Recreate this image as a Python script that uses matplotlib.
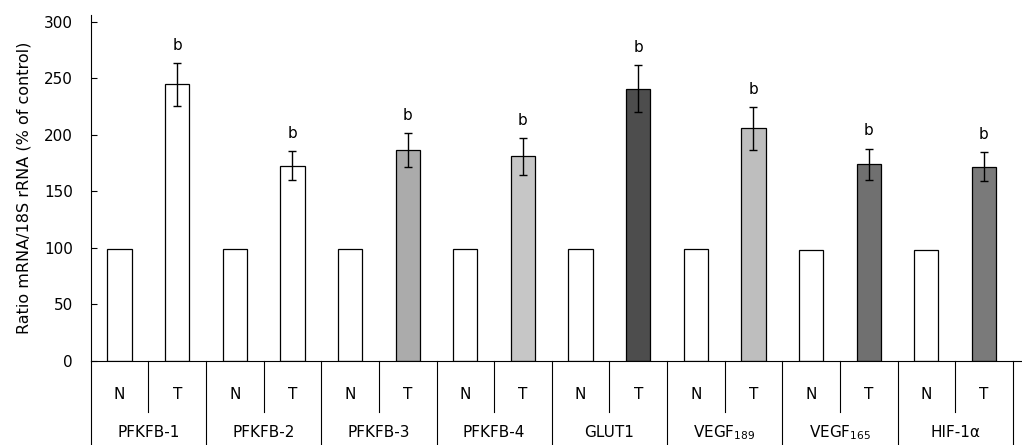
import matplotlib
matplotlib.use("Agg")
import matplotlib.pyplot as plt
import matplotlib.transforms as mtransforms
import numpy as np

# data
genes = ['PFKFB-1', 'PFKFB-2', 'PFKFB-3', 'PFKFB-4', 'GLUT1',
         r'VEGF$_\mathregular{189}$', r'VEGF$_\mathregular{165}$', 'HIF-1α']
normal = [99, 99, 99, 99, 99, 99, 98, 98]
tumor = [245, 173, 187, 181, 241, 206, 174, 172]
tumor_err = [19, 13, 15, 16, 21, 19, 14, 13]
tumor_colors = ['white', 'white', '#ababab', '#c6c6c6', '#4d4d4d',
                '#bebebe', '#707070', '#7a7a7a']

fig = plt.figure(figsize=(10.22, 4.45), dpi=100)
ax = fig.add_axes([0.0888, 0.1888, 0.9112, 0.777])

x = np.arange(len(genes))
w = 0.21
ax.bar(x + 0.25, normal, width=w, color='white', edgecolor='black', linewidth=0.9)
ax.bar(x + 0.75, tumor, width=w, color=tumor_colors, edgecolor='black', linewidth=0.9)
ax.errorbar(x + 0.75, tumor, yerr=tumor_err, fmt='none', ecolor='black',
            elinewidth=1, capsize=3, capthick=1)

for xi, t, e in zip(x, tumor, tumor_err):
    ax.text(xi + 0.75, t + e + 9, 'b', ha='center', va='bottom', fontsize=11)

ax.set_xlim(0, 8.08)
ax.set_ylim(0, 306)
ax.set_yticks(range(0, 301, 50))
ax.tick_params(axis='y', direction='in', length=4, labelsize=11, pad=13)
ax.set_xticks([])
ax.spines['top'].set_visible(False)
ax.spines['right'].set_visible(False)
ax.set_ylabel('Ratio mRNA/18S rRNA (% of control)', fontsize=11.5, labelpad=9)

# category table under the axis
trans = mtransforms.blended_transform_factory(ax.transData, ax.transAxes)
for i in range(len(genes) + 1):
    ax.plot([i, i], [0, -0.25], color='black', lw=0.8, transform=trans, clip_on=False)
for i, g in enumerate(genes):
    ax.plot([i + 0.5, i + 0.5], [0, -0.1475], color='black', lw=0.8,
            transform=trans, clip_on=False)
    ax.text(i + 0.25, -0.098, 'N', ha='center', va='center', fontsize=11, transform=trans)
    ax.text(i + 0.75, -0.098, 'T', ha='center', va='center', fontsize=11, transform=trans)
    ax.text(i + 0.5, -0.208, g, ha='center', va='center', fontsize=11, transform=trans)

fig.savefig('out.png', dpi=100)
